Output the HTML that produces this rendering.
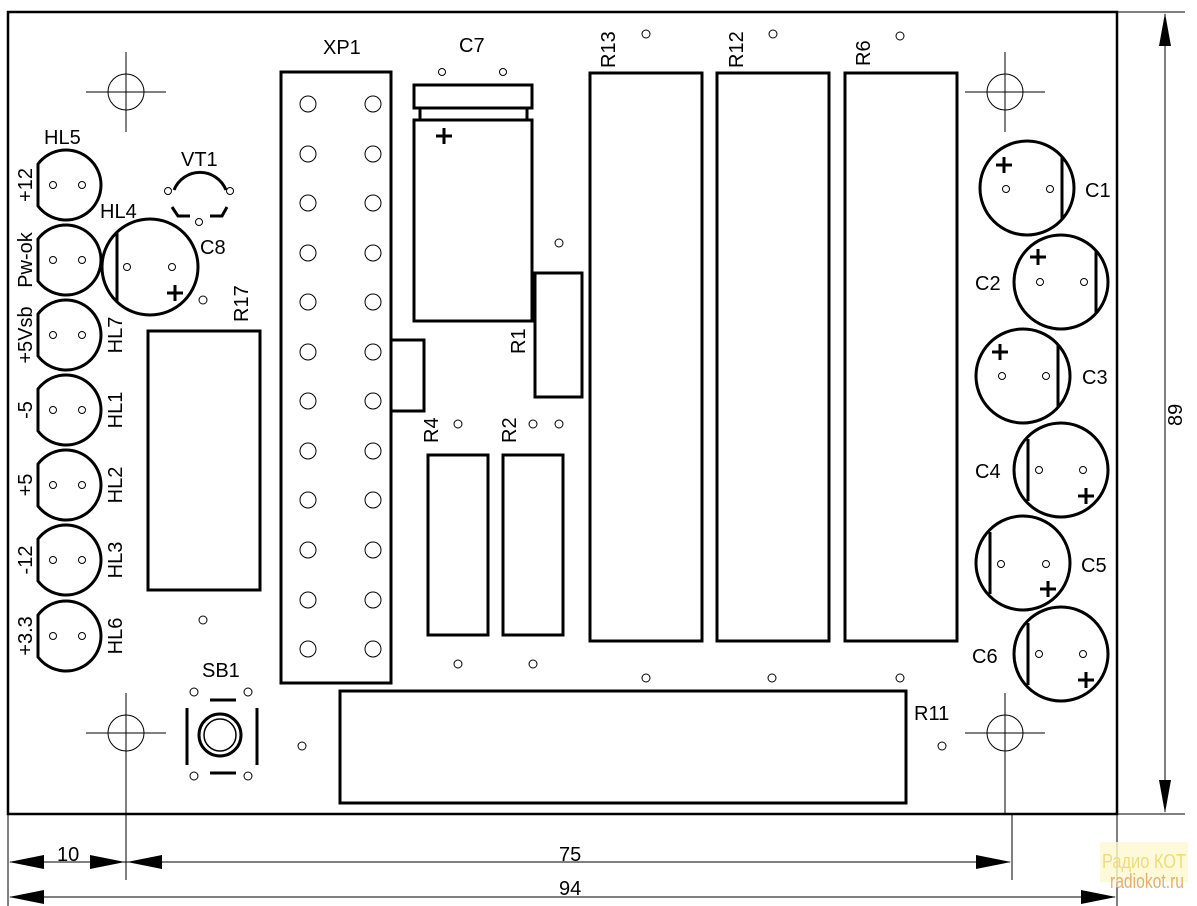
<!DOCTYPE html>
<html><head><meta charset="utf-8"><style>
html,body{margin:0;padding:0;background:#fff;}
svg{display:block}
text{font-family:"Liberation Sans",sans-serif;font-size:20px;fill:#000}
</style></head><body>
<svg width="1197" height="906" viewBox="0 0 1197 906" xmlns="http://www.w3.org/2000/svg">
<g fill="none" stroke="#000">
<rect x="8" y="12" width="1109" height="802" stroke-width="2.5"/>
<g stroke-width="1">
<line x1="1117" y1="12" x2="1185" y2="12"/>
<line x1="1117" y1="814" x2="1185" y2="814"/>
<line x1="1165" y1="14" x2="1165" y2="812"/>
<line x1="8" y1="814" x2="8" y2="906"/>
<line x1="126" y1="814" x2="126" y2="880"/>
<line x1="1012" y1="814" x2="1012" y2="880"/>
<line x1="1117" y1="814" x2="1117" y2="906"/>
<line x1="10" y1="862" x2="1010" y2="862"/>
<line x1="10" y1="897" x2="1115" y2="897"/>
<circle cx="126" cy="92" r="18"/><line x1="86" y1="92" x2="166" y2="92"/><line x1="126" y1="52" x2="126" y2="132"/>
<circle cx="1005" cy="92" r="18"/><line x1="965" y1="92" x2="1045" y2="92"/><line x1="1005" y1="52" x2="1005" y2="132"/>
<circle cx="126" cy="733" r="18"/><line x1="86" y1="733" x2="166" y2="733"/><line x1="126" y1="693" x2="126" y2="814"/>
<circle cx="1005" cy="733" r="18"/><line x1="965" y1="733" x2="1045" y2="733"/><line x1="1005" y1="693" x2="1005" y2="814"/>
</g>
<g stroke-width="3">
<path d="M38,164 A35,35 0 1,1 38,206 Z"/>
<path d="M38,239 A35,35 0 1,1 38,281 Z"/>
<path d="M38,314 A35,35 0 1,1 38,356 Z"/>
<path d="M38,389 A35,35 0 1,1 38,431 Z"/>
<path d="M38,464 A35,35 0 1,1 38,506 Z"/>
<path d="M38,539 A35,35 0 1,1 38,581 Z"/>
<path d="M38,615 A35,35 0 1,1 38,657 Z"/>
<circle cx="150" cy="267" r="48"/><line x1="117" y1="233" x2="117" y2="301"/>
<path d="M174,190 A28,28 0 0,1 226,190"/>
<path d="M172,207 L178,216 L190,216 M210,216 L222,216 L227,207"/>
<rect x="148" y="331" width="112" height="259"/>
<rect x="281" y="72" width="110" height="611"/>
<rect x="391" y="340" width="33" height="71"/>
<rect x="414" y="85" width="118" height="23"/>
<rect x="420" y="108" width="107" height="12"/>
<rect x="414" y="120" width="118" height="201"/>
<rect x="535" y="273" width="47" height="124"/>
<rect x="428" y="455" width="60" height="180"/>
<rect x="503" y="455" width="60" height="180"/>
<rect x="590" y="73" width="112" height="568"/>
<rect x="717" y="73" width="112" height="568"/>
<rect x="845" y="73" width="112" height="568"/>
<rect x="340" y="691" width="566" height="112"/>
<circle cx="220" cy="735" r="21"/><circle cx="220" cy="735" r="16" stroke-width="1.5"/>
<path d="M210,700 H236 M210,773 H236 M187,708 V765 M257,708 V765"/>
<circle cx="1027" cy="188" r="47"/><line x1="1062" y1="157" x2="1062" y2="219"/>
<circle cx="1061" cy="282" r="47"/><line x1="1096" y1="251" x2="1096" y2="313"/>
<circle cx="1023" cy="376" r="47"/><line x1="1058" y1="345" x2="1058" y2="407"/>
<circle cx="1061" cy="470" r="47"/><line x1="1028" y1="439" x2="1028" y2="501"/>
<circle cx="1023" cy="563" r="47"/><line x1="990" y1="532" x2="990" y2="594"/>
<circle cx="1061" cy="654" r="47"/><line x1="1028" y1="623" x2="1028" y2="685"/>
<path d="M167,293 H183 M175,285 V301"/>
<path d="M436,136 H452 M444,128 V144"/>
<path d="M996,165 H1012 M1004,157 V173"/>
<path d="M1030,257 H1046 M1038,249 V265"/>
<path d="M992,352 H1008 M1000,344 V360"/>
<path d="M1078,496 H1094 M1086,488 V504"/>
<path d="M1040,589 H1056 M1048,581 V597"/>
<path d="M1078,680 H1094 M1086,672 V688"/>
</g>
<g stroke-width="1" fill="#fff">
<circle cx="53" cy="185" r="3.5"/><circle cx="82" cy="185" r="3.5"/>
<circle cx="53" cy="260" r="3.5"/><circle cx="82" cy="260" r="3.5"/>
<circle cx="53" cy="335" r="3.5"/><circle cx="82" cy="335" r="3.5"/>
<circle cx="53" cy="410" r="3.5"/><circle cx="82" cy="410" r="3.5"/>
<circle cx="53" cy="485" r="3.5"/><circle cx="82" cy="485" r="3.5"/>
<circle cx="53" cy="560" r="3.5"/><circle cx="82" cy="560" r="3.5"/>
<circle cx="53" cy="636" r="3.5"/><circle cx="82" cy="636" r="3.5"/>
<circle cx="127" cy="267" r="3.5"/><circle cx="172" cy="267" r="3.5"/>
<circle cx="168" cy="191" r="3.5"/><circle cx="230" cy="191" r="3.5"/><circle cx="199" cy="222" r="3.5"/>
<circle cx="203" cy="300" r="4"/><circle cx="203" cy="620" r="4"/>
<circle cx="442" cy="72" r="3.5"/><circle cx="503" cy="72" r="3.5"/>
<circle cx="559" cy="243" r="4"/>
<circle cx="458" cy="424" r="4"/><circle cx="533" cy="424" r="4"/><circle cx="559" cy="424" r="4"/>
<circle cx="458" cy="664" r="4"/><circle cx="533" cy="664" r="4"/>
<circle cx="646" cy="34" r="4"/><circle cx="773" cy="34" r="4"/><circle cx="900" cy="36" r="4"/>
<circle cx="646" cy="678" r="4"/><circle cx="772" cy="678" r="4"/><circle cx="900" cy="678" r="4"/>
<circle cx="302" cy="746" r="4"/><circle cx="942" cy="746" r="4"/>
<circle cx="194" cy="692" r="4"/><circle cx="248" cy="692" r="4"/><circle cx="194" cy="776" r="4"/><circle cx="248" cy="776" r="4"/>
<circle cx="1006" cy="189" r="3.5"/><circle cx="1050" cy="189" r="3.5"/>
<circle cx="1040" cy="282" r="3.5"/><circle cx="1084" cy="282" r="3.5"/>
<circle cx="1002" cy="376" r="3.5"/><circle cx="1046" cy="376" r="3.5"/>
<circle cx="1039" cy="470" r="3.5"/><circle cx="1083" cy="470" r="3.5"/>
<circle cx="1001" cy="564" r="3.5"/><circle cx="1046" cy="564" r="3.5"/>
<circle cx="1039" cy="654" r="3.5"/><circle cx="1083" cy="654" r="3.5"/>
<circle cx="308" cy="104" r="8"/><circle cx="373" cy="104" r="8"/>
<circle cx="308" cy="154" r="8"/><circle cx="373" cy="154" r="8"/>
<circle cx="308" cy="203" r="8"/><circle cx="373" cy="203" r="8"/>
<circle cx="308" cy="253" r="8"/><circle cx="373" cy="253" r="8"/>
<circle cx="308" cy="302" r="8"/><circle cx="373" cy="302" r="8"/>
<circle cx="308" cy="352" r="8"/><circle cx="373" cy="352" r="8"/>
<circle cx="308" cy="401" r="8"/><circle cx="373" cy="401" r="8"/>
<circle cx="308" cy="451" r="8"/><circle cx="373" cy="451" r="8"/>
<circle cx="308" cy="500" r="8"/><circle cx="373" cy="500" r="8"/>
<circle cx="308" cy="550" r="8"/><circle cx="373" cy="550" r="8"/>
<circle cx="308" cy="600" r="8"/><circle cx="373" cy="600" r="8"/>
<circle cx="308" cy="649" r="8"/><circle cx="373" cy="649" r="8"/>
</g>
</g>
<g fill="#000" stroke="none">
<polygon points="1165,13 1159,46 1171,46"/>
<polygon points="1165,813 1159,780 1171,780"/>
<polygon points="9,862 44,855 44,869"/>
<polygon points="125,862 90,855 90,869"/>
<polygon points="127,862 162,855 162,869"/>
<polygon points="1011,862 976,855 976,869"/>
<polygon points="9,897 44,890 44,904"/>
<polygon points="1116,897 1081,890 1081,904"/>
</g>
<g>
<text x="44" y="144">HL5</text>
<text x="181" y="166">VT1</text>
<text x="100" y="218">HL4</text>
<text x="200" y="254">C8</text>
<text x="323" y="54">XP1</text>
<text x="459" y="52">C7</text>
<text x="202" y="677">SB1</text>
<text x="914" y="720">R11</text>
<text x="1085" y="197">C1</text>
<text x="975" y="290">C2</text>
<text x="1082" y="384">C3</text>
<text x="975" y="478">C4</text>
<text x="1081" y="572">C5</text>
<text x="972" y="663">C6</text>
<text x="57" y="861" font-size="17">10</text>
<text x="559" y="861" font-size="17">75</text>
<text x="559" y="895" font-size="17">94</text>
<text transform="translate(1182,426) rotate(-90)" font-size="15">89</text>
<text transform="translate(32,185) rotate(-90)" text-anchor="middle">+12</text>
<text transform="translate(32,260) rotate(-90)" text-anchor="middle">Pw-ok</text>
<text transform="translate(32,335) rotate(-90)" text-anchor="middle">+5Vsb</text>
<text transform="translate(32,410) rotate(-90)" text-anchor="middle">-5</text>
<text transform="translate(32,485) rotate(-90)" text-anchor="middle">+5</text>
<text transform="translate(32,560) rotate(-90)" text-anchor="middle">-12</text>
<text transform="translate(32,636) rotate(-90)" text-anchor="middle">+3.3</text>
<text transform="translate(122,335) rotate(-90)" text-anchor="middle">HL7</text>
<text transform="translate(122,410) rotate(-90)" text-anchor="middle">HL1</text>
<text transform="translate(122,485) rotate(-90)" text-anchor="middle">HL2</text>
<text transform="translate(122,560) rotate(-90)" text-anchor="middle">HL3</text>
<text transform="translate(122,636) rotate(-90)" text-anchor="middle">HL6</text>
<text transform="translate(248,322) rotate(-90)">R17</text>
<text transform="translate(525,354) rotate(-90)">R1</text>
<text transform="translate(438,443) rotate(-90)">R4</text>
<text transform="translate(516,443) rotate(-90)">R2</text>
<text transform="translate(615,68) rotate(-90)">R13</text>
<text transform="translate(743,68) rotate(-90)">R12</text>
<text transform="translate(870,66) rotate(-90)">R6</text>
</g>
<rect x="1100" y="842" width="88" height="40" fill="#fdf7d0" opacity="0.8"/>
<text x="1102" y="868" font-size="17" style="fill:#eedd77" textLength="84" lengthAdjust="spacingAndGlyphs">Радио КОТ</text>
<text x="1110" y="888" font-size="11" style="fill:#e0b070" textLength="74" lengthAdjust="spacingAndGlyphs">radiokot.ru</text>
</svg>
</body></html>
